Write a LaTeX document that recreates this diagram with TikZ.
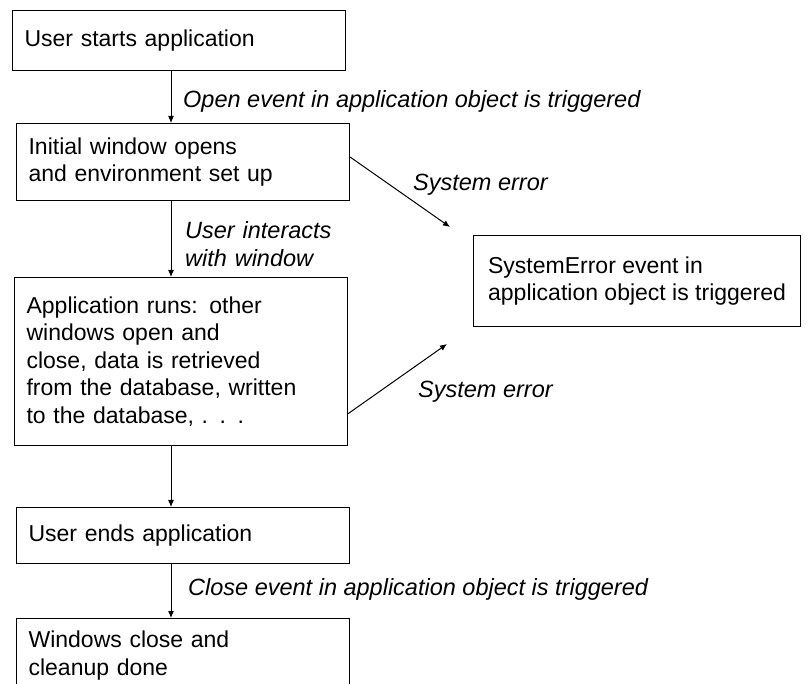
\documentclass[tikz,border=0pt]{standalone}
\usepackage{fontspec}
\setmainfont{Liberation Sans}
\usetikzlibrary{arrows.meta}
\usetikzlibrary{positioning}

\tikzset{
	box/.style={draw, line width=1.2pt, anchor=north west, inner ysep=0pt,
		align=left, font=\fontsize{23}{27.5}\selectfont},
	stepbox/.style={box, inner xsep=12pt, minimum width=333pt, text width=309pt},
	evlabel/.style={anchor=west, inner sep=0pt, font=\fontsize{23.5}{28}\selectfont\itshape},
	flow/.style={-{Latex[length=7pt,width=6pt]}, line width=1pt},
}

\begin{document}
\begin{tikzpicture}[x=1pt, y=-1pt]
		\useasboundingbox (0,0) rectangle (809,684);
		\clip (0,0) rectangle (809,684);
		\coordinate (spine) at (171,0);
		\node[stepbox, minimum height=60pt] (start) at (12,10) {User starts application};
		\node[stepbox, minimum height=77pt] (initwin) at (16,123) {Initial window opens\\and environment set up};
		\node[stepbox, minimum height=168pt] (apprun) at (14,277) {Application runs: other\\windows open and\\close, data is retrieved\\from the database, written\\to the database, . . .};
		\node[stepbox, minimum height=56pt] (userend) at (16,507) {User ends application};
		\node[stepbox, minimum height=74pt] (cleanup) at (16,618) {Windows close and\\cleanup done};
		\node[box, minimum width=327pt, minimum height=91pt] (syserr) at (473,235) {SystemError event in\\application object is triggered};
		\coordinate (errin1) at (450,227);
		\coordinate (errin2) at (447,344);
		\draw[flow] (start.south -| spine) -- (initwin.north -| spine);
		\draw[flow] (initwin.south -| spine) -- (apprun.north -| spine);
		\draw[flow] (apprun.south -| spine) -- (userend.north -| spine);
		\draw[flow] (userend.south -| spine) -- (cleanup.north -| spine);
		\draw[flow] ([yshift=5pt]initwin.east) -- (errin1);
		\draw[flow] ([yshift=-52pt]apprun.east) -- (errin2);
		\node[evlabel] (openev) at (183,101) {Open event in application object is triggered};
		\node[evlabel, align=left, text width=200pt] (interact) at (185,244) {User interacts\\with window};
		\node[evlabel] (err1) at (413,185) {System error};
		\node[evlabel] (err2) at (418,392) {System error};
		\node[evlabel] (closeev) at (188,589) {Close event in application object is triggered};
	\end{tikzpicture}
\end{document}
